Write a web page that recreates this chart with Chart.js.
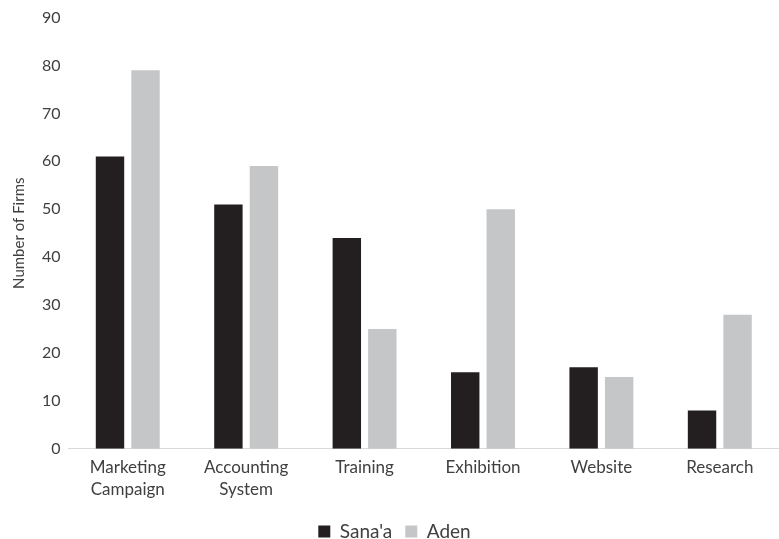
<!DOCTYPE html>
<html>
<head>
<meta charset="utf-8">
<script src="https://cdn.jsdelivr.net/npm/chart.js@4/dist/chart.umd.min.js"></script>
<style>
  html, body { margin: 0; padding: 0; background: #fff; }
  #wrap { width: 779px; height: 539px; }
</style>
</head>
<body>
<div id="wrap"><canvas id="chart"></canvas></div>
<script>
const categories = [
  ['Marketing', 'Campaign'],
  ['Accounting', 'System'],
  'Training',
  'Exhibition',
  'Website',
  'Research'
];
const sanaa = [61, 51, 44, 16, 17, 8];
const aden = [79, 59, 25, 50, 15, 28];
const seriesNames = ["Sana'a", 'Aden'];

const fontFamily = 'Lato, "Open Sans", sans-serif';
const textColor = '#404040';

new Chart(document.getElementById('chart'), {
  type: 'bar',
  data: {
    labels: categories,
    datasets: [
      {
        label: seriesNames[0],
        data: sanaa,
        backgroundColor: '#231f20',
        categoryPercentage: 0.6,
        barPercentage: 0.8
      },
      {
        label: seriesNames[1],
        data: aden,
        backgroundColor: '#c5c6c8',
        categoryPercentage: 0.6,
        barPercentage: 0.8
      }
    ]
  },
  options: {
    responsive: true,
    maintainAspectRatio: false,
    animation: false,
    layout: { padding: { top: 10, right: 0, left: 10, bottom: -12 } },
    plugins: {
      legend: {
        position: 'bottom',
        labels: {
          boxWidth: 12,
          boxHeight: 12,
          padding: 13,
          color: textColor,
          font: { family: fontFamily, size: 19 }
        }
      },
      tooltip: { enabled: false }
    },
    scales: {
      x: {
        grid: { display: false, drawTicks: false },
        border: { color: '#d9d9d9', width: 1 },
        ticks: {
          color: textColor,
          padding: 8,
          maxRotation: 0,
          font: { family: fontFamily, size: 17, lineHeight: 1.3 }
        }
      },
      y: {
        min: 0,
        max: 90,
        grid: { display: false, drawTicks: false },
        border: { display: false },
        ticks: {
          stepSize: 10,
          color: textColor,
          padding: 8,
          font: { family: fontFamily, size: 16 }
        },
        title: {
          display: true,
          text: 'Number of Firms',
          color: textColor,
          padding: { top: 0, bottom: 6 },
          font: { family: fontFamily, size: 15 }
        }
      }
    }
  }
});
</script>
</body>
</html>
